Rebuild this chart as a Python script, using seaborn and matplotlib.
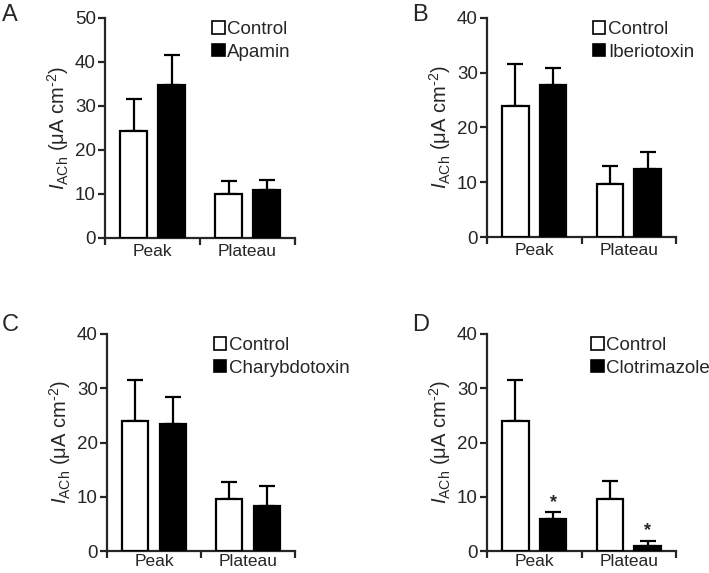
import numpy as np
import pandas as pd
import matplotlib
matplotlib.use("Agg")
import matplotlib.pyplot as plt
import seaborn as sns
from matplotlib.patches import Patch

sns.set_style("ticks")
plt.rcParams['font.family'] = ['Liberation Sans', 'DejaVu Sans']
plt.rcParams['mathtext.fontset'] = 'custom'
plt.rcParams['mathtext.rm'] = 'Liberation Sans'
plt.rcParams['mathtext.it'] = 'Liberation Sans:italic'

phases = ["Peak", "Plateau"]
panel_letters = ["A", "B", "C", "D"]
treatments = ["Apamin", "Iberiotoxin", "Charybdotoxin", "Clotrimazole"]

control_mean = [[24.3, 9.9], [24.0, 9.7], [24.0, 9.5], [24.0, 9.6]]
control_err = [[7.4, 3.1], [7.6, 3.2], [7.6, 3.3], [7.6, 3.3]]
treat_mean = [[34.8, 10.9], [27.8, 12.4], [23.4, 8.3], [5.9, 1.0]]
treat_err = [[6.8, 2.3], [3.1, 3.1], [4.9, 3.7], [1.2, 0.9]]
ymax = [50, 40, 40, 40]
significant = [[False, False], [False, False], [False, False], [True, True]]

fig = plt.figure(figsize=(7.09, 5.73), dpi=100)
W, H = 709, 573
# axes boxes in pixels: left, top(y of ymax), right, bottom(y of 0)
boxes = [(105, 18, 295, 238), (487, 18, 676, 237),
         (107, 334, 295, 551), (487, 334, 676, 551)]
leg_x = [0.57, 0.566, 0.575, 0.557]
letter_pos = [(2, 4), (412, 4), (2, 314), (412, 314)]
xpad = [4.5, 4.5, 2.5, 2.5]

for i in range(4):
    l, t, r, b = boxes[i]
    ax = fig.add_axes([l / W, (H - b) / H, (r - l) / W, (b - t) / H])
    df = pd.DataFrame({
        "phase": phases * 2,
        "group": ["Control"] * 2 + [treatments[i]] * 2,
        "value": control_mean[i] + treat_mean[i],
    })
    sns.barplot(data=df, x="phase", y="value", hue="group",
                palette=["white", "black"], edgecolor="black", linewidth=1.6,
                gap=0.3, errorbar=None, ax=ax, legend=False, zorder=3)
    errs = [control_err[i], treat_err[i]]
    for ci, cont in enumerate(ax.containers[:2]):
        xs = [p.get_x() + p.get_width() / 2 for p in cont.patches]
        ys = [p.get_height() for p in cont.patches]
        ax.errorbar(xs, ys, yerr=[np.zeros(len(ys)), errs[ci]], fmt='none',
                    ecolor='black', elinewidth=1.6, capsize=5.5, capthick=1.6,
                    zorder=2)
        if ci == 1:
            for j, (x, y) in enumerate(zip(xs, ys)):
                if significant[i][j]:
                    ax.text(x, y + errs[ci][j] + 0.3, "*", ha='center', va='bottom',
                            fontsize=13, fontweight='bold')
    ax.set_xlim(-0.5, 1.5)
    ax.set_ylim(0, ymax[i])
    ax.set_yticks(np.arange(0, ymax[i] + 1, 10))
    ax.set_xticks([0, 1])
    ax.set_xticklabels(phases)
    ax.set_xticks([-0.5, 0.5, 1.5], minor=True)
    ax.tick_params(axis='x', which='major', length=0, pad=xpad[i], labelsize=12.5)
    ax.tick_params(axis='x', which='minor', length=5, width=1.6, direction='out')
    ax.tick_params(axis='y', length=5, width=1.6, direction='out', pad=1.5, labelsize=13.5)
    for s in ['top', 'right']:
        ax.spines[s].set_visible(False)
    for s in ['left', 'bottom']:
        ax.spines[s].set_linewidth(1.6)
    ax.set_xlabel("")
    ax.set_ylabel(r"$I_{\mathrm{ACh}}$ (μA cm$^{\mathrm{‐2}}$)", fontsize=14.5, labelpad=3)
    handles = [Patch(facecolor='white', edgecolor='black', linewidth=1.2),
               Patch(facecolor='black', edgecolor='black', linewidth=1.2)]
    ax.legend(handles, ["Control", treatments[i]], loc='upper left',
              bbox_to_anchor=(leg_x[i] - 0.015, 0.995), frameon=False, fontsize=13.5,
              handlelength=0.65, handleheight=0.65, handletextpad=0.15,
              labelspacing=0.3, borderaxespad=0, borderpad=0.1)
    lx, ly = letter_pos[i]
    fig.text(lx / W, (H - ly) / H, panel_letters[i], fontsize=17, ha='left', va='top')

fig.savefig("out.png", dpi=100)
